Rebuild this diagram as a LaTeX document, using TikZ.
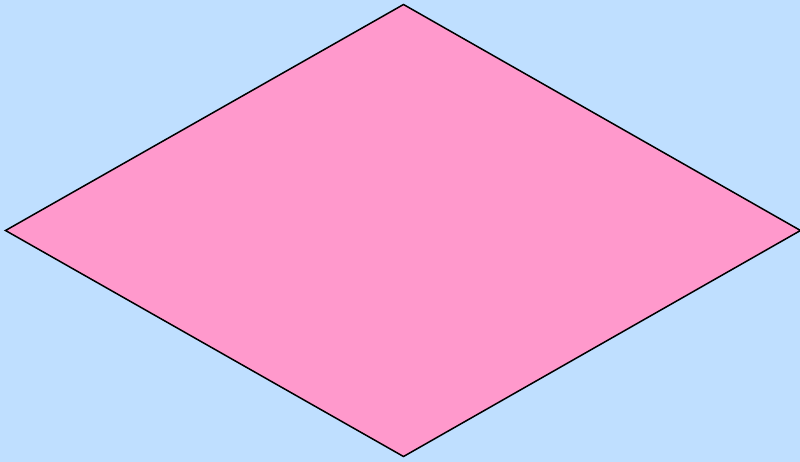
\documentclass[tikz,border=0pt]{standalone}
\definecolor{bgblue}{HTML}{BFDFFF}
\definecolor{pinkfill}{HTML}{FF99CC}
\begin{document}
\begin{tikzpicture}[x=1pt,y=-1pt,
  diamondline/.style={draw=black,line width=1.5pt,fill=pinkfill,line join=miter}]
\fill[bgblue] (0,0) rectangle (800,462);
\useasboundingbox (0,0) rectangle (800,462);
\coordinate (t) at (403.5,4.5);
\coordinate (l) at (5.5,230.5);
\coordinate (r) at (800.5,230.5);
\coordinate (b) at (403.5,456.5);
\draw[diamondline] (t) -- (r) -- (b) -- (l) -- cycle;
\end{tikzpicture}
\end{document}
